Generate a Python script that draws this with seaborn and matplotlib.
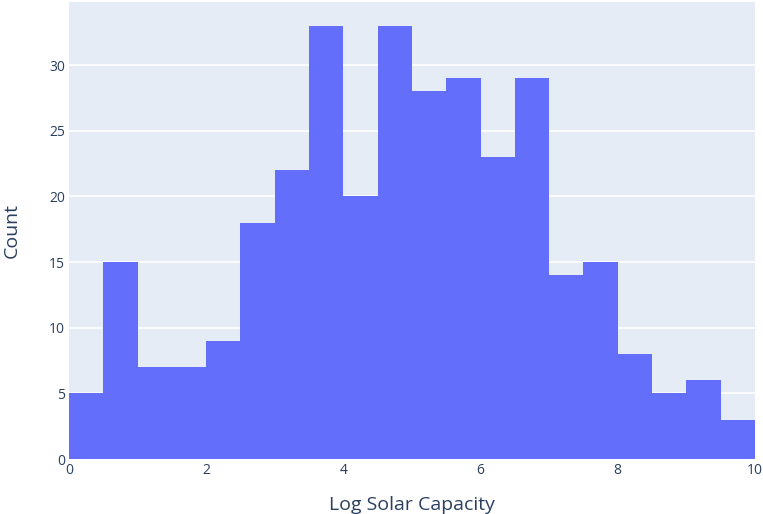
import matplotlib
matplotlib.use("Agg")
import matplotlib.pyplot as plt
import numpy as np
import pandas as pd
import seaborn as sns

bin_edges = [0, 0.5, 1, 1.5, 2, 2.5, 3, 3.5, 4, 4.5, 5, 5.5, 6, 6.5, 7, 7.5, 8, 8.5, 9, 9.5, 10]
counts = [5, 15, 7, 7, 9, 18, 22, 33, 20, 33, 28, 29, 23, 29, 14, 15, 8, 5, 6, 3]
x_ticks = [0, 2, 4, 6, 8, 10]
y_ticks = [0, 5, 10, 15, 20, 25, 30]

edges = np.array(bin_edges)
df = pd.DataFrame({"log_solar": (edges[:-1] + edges[1:]) / 2, "n": counts})

sns.set_theme(style="darkgrid")
plt.rcParams["font.family"] = ["Open Sans", "DejaVu Sans"]
text_color = "#2a3f5f"

fig = plt.figure(figsize=(7.63, 5.14), dpi=100)
ax = fig.add_axes([0.0904, 0.107, 0.899, 0.889])
sns.histplot(
    data=df, x="log_solar", weights="n", bins=bin_edges,
    color="#636efa", alpha=1, edgecolor="none", linewidth=0, ax=ax,
)

ax.set_facecolor("#e5ecf6")
ax.grid(axis="y", color="white", linewidth=1.2)
ax.grid(axis="x", visible=False)
ax.set_axisbelow(True)
for s in ax.spines.values():
    s.set_visible(False)

ax.set_xlim(0, 10)
ax.set_ylim(0, 34.8)
ax.set_xticks(x_ticks)
ax.set_yticks(y_ticks)
ax.tick_params(length=0, labelsize=10, colors=text_color, pad=3)
ax.set_xlabel("Log Solar Capacity", fontsize=14, color=text_color, va="center")
ax.set_ylabel("Count", fontsize=14, color=text_color, va="center")
ax.xaxis.set_label_coords(0.5, -0.101)
ax.yaxis.set_label_coords(-0.083, 0.5)

fig.savefig("out.png", dpi=100)
